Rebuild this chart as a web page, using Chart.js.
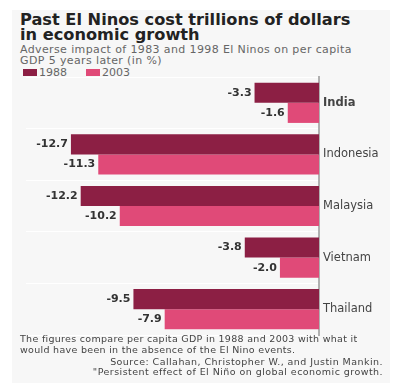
<!DOCTYPE html>
<html>
<head>
    <title>Past El Ninos cost trillions of dollars</title>
    <style>
        body {
            margin: 0;
            background-color: #ffffff;
            font-family: "DejaVu Sans", Arial, sans-serif;
        }
        .panel {
            position: absolute;
            left: 12px;
            top: 10px;
            width: 378px;
            height: 373px;
            background-color: #f7f7f7;
        }
        .title {
            position: absolute;
            left: 20px;
            top: 12px;
            font-weight: bold;
            font-size: 16.2px;
            line-height: 15px;
            color: #222;
        }
        .subtitle {
            position: absolute;
            left: 20px;
            top: 44px;
            font-size: 11px;
            line-height: 11px;
            letter-spacing: 0.38px;
            color: #666;
        }
        .legend {
            position: absolute;
            left: 23px;
            top: 67px;
            font-size: 11px;
            line-height: 12px;
            color: #666;
        }
        .legend span.box {
            display: inline-block;
            width: 14px;
            height: 7px;
            margin-right: 2px;
        }
        .legend span.item {
            margin-right: 19px;
        }
        .note {
            position: absolute;
            left: 20px;
            top: 333px;
            font-size: 9.5px;
            line-height: 11px;
            letter-spacing: 0.3px;
            color: #444;
        }
        .source {
            position: absolute;
            right: 15px;
            top: 357px;
            font-size: 9.5px;
            line-height: 10px;
            letter-spacing: 0.45px;
            color: #444;
            text-align: right;
        }
        canvas {
            position: absolute;
            left: 0;
            top: 0;
        }
    </style>
</head>
<body>
    <div class="panel"></div>
    <div class="title">Past El Ninos cost trillions of dollars<br>in economic growth</div>
    <div class="subtitle">Adverse impact of 1983 and 1998 El Ninos on per capita<br>GDP 5 years later (in %)</div>
    <div class="legend" id="legend"></div>
    <canvas id="chart" width="398" height="387"></canvas>
    <div class="note">The figures compare per capita GDP in 1988 and 2003 with what it<br>would have been in the absence of the El Nino events.</div>
    <div class="source">Source: Callahan, Christopher W., and Justin Mankin.<br>"Persistent effect of El Niño on global economic growth.</div>

    <script src="https://cdn.jsdelivr.net/npm/chart.js"></script>
    <script>
        var countries = ['India', 'Indonesia', 'Malaysia', 'Vietnam', 'Thailand'];
        var seriesNames = ['1988', '2003'];
        var values1988 = [-3.3, -12.7, -12.2, -3.8, -9.5];
        var values2003 = [-1.6, -11.3, -10.2, -2.0, -7.9];
        var colors = ['#8c1f44', '#e04a78'];

        // legend in html
        var legendHtml = '';
        for (var i = 0; i < seriesNames.length; i++) {
            legendHtml += '<span class="item"><span class="box" style="background:' + colors[i] + '"></span>' + seriesNames[i] + '</span>';
        }
        document.getElementById('legend').innerHTML = legendHtml;

        // value labels at the end of each bar
        var valueLabels = {
            id: 'valueLabels',
            afterDatasetsDraw: function (chart) {
                var ctx = chart.ctx;
                ctx.save();
                ctx.font = 'bold 11px "DejaVu Sans", sans-serif';
                ctx.fillStyle = '#333';
                ctx.textAlign = 'right';
                ctx.textBaseline = 'middle';
                chart.data.datasets.forEach(function (ds, di) {
                    chart.getDatasetMeta(di).data.forEach(function (bar, j) {
                        ctx.fillText(ds.data[j].toFixed(1), bar.x - 3, bar.y);
                    });
                });
                ctx.restore();
            }
        };

        new Chart(document.getElementById('chart'), {
            type: 'bar',
            data: {
                labels: countries,
                datasets: [
                    { label: seriesNames[0], data: values1988, backgroundColor: colors[0] },
                    { label: seriesNames[1], data: values2003, backgroundColor: colors[1] }
                ]
            },
            options: {
                indexAxis: 'y',
                responsive: false,
                animation: false,
                categoryPercentage: 0.78,
                barPercentage: 1,
                layout: { padding: { left: 26, top: 77, bottom: 52, right: 0 } },
                plugins: {
                    legend: { display: false },
                    tooltip: { enabled: false }
                },
                scales: {
                    x: { min: -15, max: 0, display: false },
                    y: {
                        position: 'right',
                        grid: { offset: true, color: '#ffffff', drawTicks: false },
                        border: { color: '#b0b0b0', width: 2 },
                        ticks: {
                            padding: 4,
                            color: '#444',
                            font: function (c) {
                                return { family: '"DejaVu Sans", sans-serif', size: 11.5, weight: c.index === 0 ? 'bold' : 'normal' };
                            }
                        },
                        afterFit: function (scale) { scale.width = 79; }
                    }
                }
            },
            plugins: [valueLabels]
        });
    </script>
</body>
</html>
